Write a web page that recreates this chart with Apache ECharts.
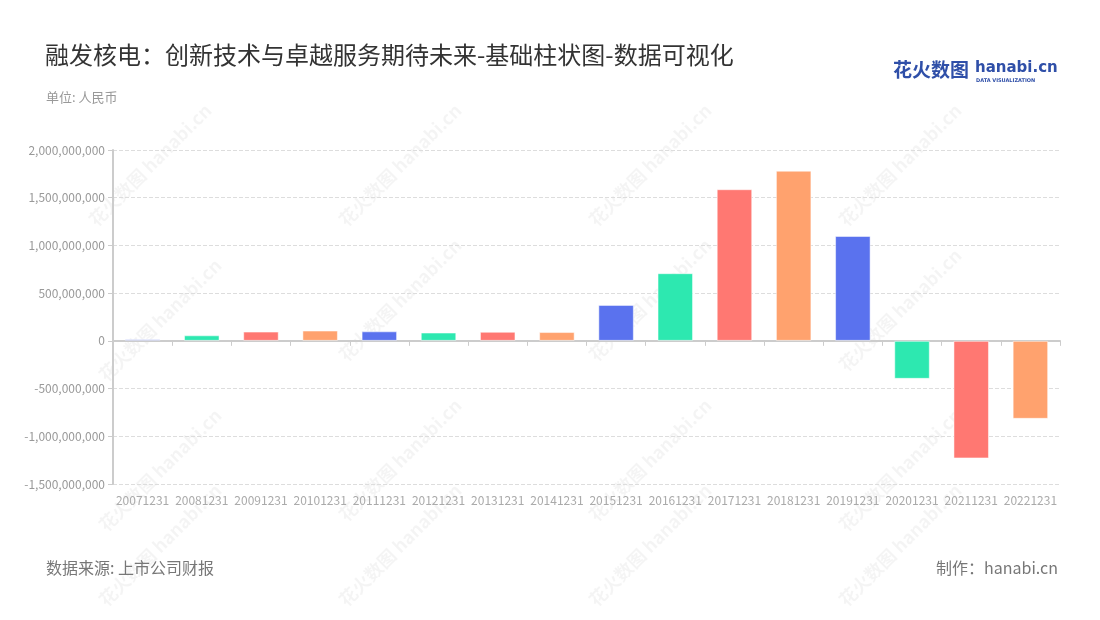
<!DOCTYPE html>
<html><head><meta charset="utf-8">
<script src="https://cdn.jsdelivr.net/npm/echarts@6/dist/echarts.min.js"></script>
<style>html,body{margin:0;padding:0;background:#fff}#c{width:1100px;height:620px}</style>
</head><body><div id="c"></div>
<script>
const categories = ['20071231','20081231','20091231','20101231','20111231','20121231','20131231','20141231','20151231','20161231','20171231','20181231','20191231','20201231','20211231','20221231'];
const values = [18000000, 58000000, 97000000, 108000000, 100000000, 87000000, 95000000, 92000000, 377000000, 709000000, 1589000000, 1783000000, 1099000000, -398000000, -1232000000, -817000000];
const palette = ['#5A72EE', '#2DE8B0', '#FF7872', '#FFA26E'];
const titleText = '融发核电：创新技术与卓越服务期待未来-基础柱状图-数据可视化';
const unitText = '单位: 人民币';
const sourceText = '数据来源: 上市公司财报';
const makerText = '制作：hanabi.cn';

const chart = echarts.init(document.getElementById('c'));
const wm = [];
const wmPos = [[150,165],[400,165],[650,165],[900,165],[160,320],[400,300],[650,300],[900,310],[160,470],[400,460],[650,460],[900,470],[400,545],[650,545],[900,545],[160,545]];
wmPos.forEach(p => {
  wm.push({type:'text', x:p[0], y:p[1], rotation: Math.PI/4, z:-1, silent:true,
    style:{text:'花火数图 hanabi.cn', fill:'rgba(0,0,0,0.045)', font:'bold 18px "Noto Sans CJK SC"', align:'center', verticalAlign:'middle'}});
});
chart.setOption({
  backgroundColor:'#fff',
  animation:false,
  title:[
    {text:titleText, left:40, top:38, textStyle:{fontFamily:'Noto Sans CJK SC', fontSize:24, fontWeight:'normal', color:'#333'}},
    {text:unitText, left:41, top:86, textStyle:{fontFamily:'Noto Sans CJK SC', fontSize:13, fontWeight:'normal', color:'#999'}},
    {text:sourceText, left:41, top:555, textStyle:{fontFamily:'Noto Sans CJK SC', fontSize:16, fontWeight:'normal', color:'#777'}},
    {text:makerText, right:37, top:555, textStyle:{fontFamily:'Noto Sans CJK SC', fontSize:16, fontWeight:'normal', color:'#777'}}
  ],
  graphic: wm.concat([
    {type:'text', left:893, top:60, style:{text:'花火数图', fill:'#2f4fa8', font:'bold 19px "Noto Sans CJK SC"'}},
    {type:'text', left:975, top:61, style:{text:'hanabi.cn', fill:'#2f4fa8', font:'bold 15px "DejaVu Sans"'}},
    {type:'text', left:976, top:78, style:{text:'DATA VISUALIZATION', fill:'#2f4fa8', font:'bold 5px "DejaVu Sans"'}}
  ]),
  grid:{left:113, right:40, top:150, bottom:136, containLabel:false},
  xAxis:{type:'category', data:categories,
    axisLine:{lineStyle:{color:'#ccc', width:2}},
    axisTick:{show:true, lineStyle:{color:'#ccc'}},
    axisLabel:{color:'#aaa', fontSize:12, fontFamily:'Noto Sans CJK SC', interval:0, margin:10}},
  yAxis:{type:'value', min:-1500000000, max:2000000000, interval:500000000,
    axisLine:{show:true, lineStyle:{color:'#ccc', width:2}},
    axisTick:{show:true, lineStyle:{color:'#ccc'}},
    splitLine:{lineStyle:{color:'#ddd', type:'dashed'}},
    axisLabel:{color:'#999', fontSize:12, fontFamily:'Noto Sans CJK SC', formatter: v => v.toLocaleString('en-US')}},
  series:[{type:'bar', barWidth:'60%',
    data: values.map((v,i)=>({value:v, itemStyle:{color:palette[i%4]}})),
    itemStyle:{borderColor:'rgba(255,255,255,0.5)', borderWidth:1}
  }]
});
</script></body></html>
